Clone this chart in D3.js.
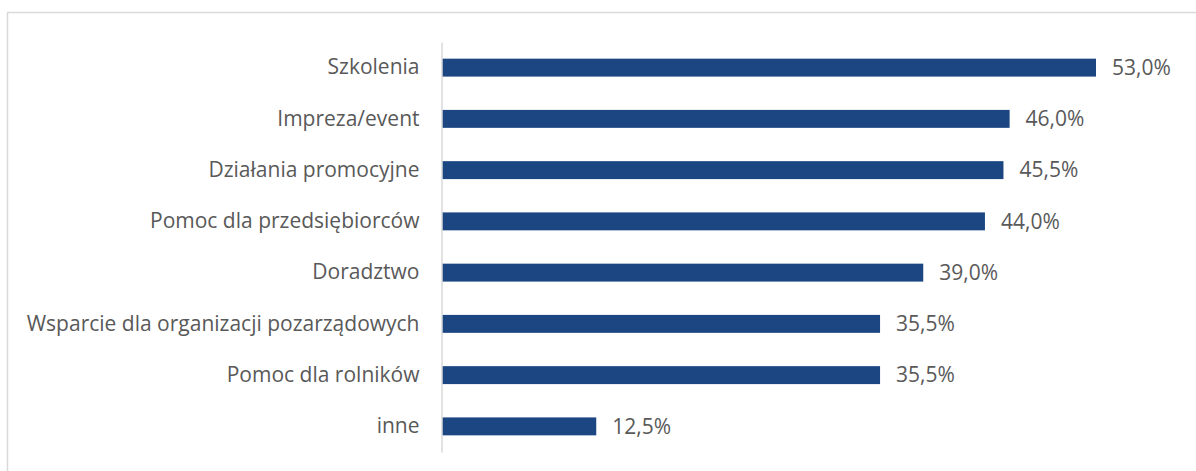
<!DOCTYPE html>
<html>
<head>
<meta charset="utf-8">
<script src="https://cdn.jsdelivr.net/npm/d3@7"></script>
<style>
  html, body { margin: 0; padding: 0; background: #fff; }
  svg { display: block; }
  text { font-family: "Open Sans", "DejaVu Sans", sans-serif; fill: #595959; }
</style>
</head>
<body>
<svg id="chart" width="1196" height="471"></svg>
<script>
// Share of responses per type of activity (%)
const categories = [
  "Szkolenia",
  "Impreza/event",
  "Działania promocyjne",
  "Pomoc dla przedsiębiorców",
  "Doradztwo",
  "Wsparcie dla organizacji pozarządowych",
  "Pomoc dla rolników",
  "inne"
];
const values = [53.0, 46.0, 45.5, 44.0, 39.0, 35.5, 35.5, 12.5];

const svg = d3.select("#chart");
const W = 1196, H = 471;
const fontSize = "21px";
const textColor = "#595959";

// outer frame
svg.append("rect")
  .attr("x", 7.5).attr("y", 12.5)
  .attr("width", W + 10).attr("height", H + 10)
  .attr("fill", "none")
  .attr("stroke", "#d9d9d9")
  .attr("stroke-width", 1.5);

const plot = { left: 442, top: 42, bottom: 452 };

const x = d3.scaleLinear().domain([0, 53]).range([plot.left, 1096]);
const y = d3.scaleBand().domain(categories).range([plot.top, plot.bottom]).paddingInner(0.65).paddingOuter(0.325);

const fmt = v => d3.format(".1f")(v).replace(".", ",") + "%";

svg.append("g").selectAll("rect")
  .data(values)
  .join("rect")
  .attr("x", x(0))
  .attr("y", (d, i) => y(categories[i]))
  .attr("width", d => x(d) - x(0))
  .attr("height", y.bandwidth())
  .attr("fill", "#1b4682");

// category axis
const axis = svg.append("g")
  .attr("transform", `translate(${plot.left - 0.5},0)`)
  .call(d3.axisLeft(y).tickSize(0).tickPadding(22));
axis.select(".domain").attr("stroke", "#d9d9d9").attr("stroke-width", 1.5);
axis.selectAll("text")
  .style("font-family", '"Open Sans", sans-serif')
  .style("font-size", fontSize)
  .attr("fill", textColor);

// value labels
svg.append("g").selectAll("text")
  .data(values)
  .join("text")
  .attr("x", d => x(d) + 16)
  .attr("y", (d, i) => y(categories[i]) + y.bandwidth() / 2)
  .attr("dy", "0.35em")
  .style("font-size", fontSize)
  .attr("fill", textColor)
  .text(d => fmt(d));
</script>
</body>
</html>
